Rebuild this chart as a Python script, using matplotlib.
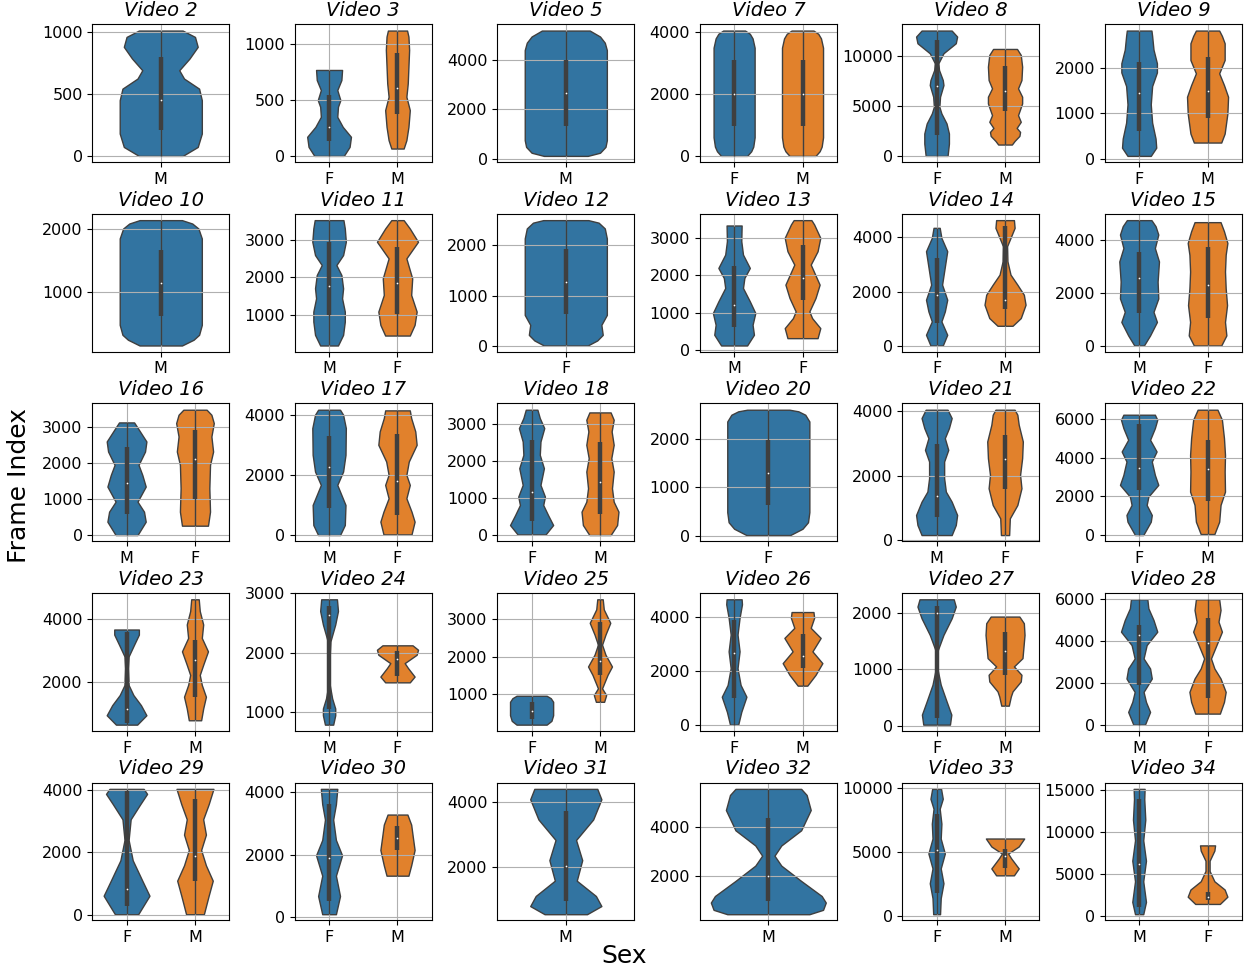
import matplotlib
matplotlib.use("Agg")
import matplotlib.pyplot as plt

# violin outlines: (frame index, half width in category units)
# boxes: (q1, median, q3)
v2_M = [(0, .16), (72, .27), (180, .30), (448, .30), (541, .28), (622, .17), (689, .135),
        (783, .21), (877, .27), (957, .25), (1008, .16)]
v2_M_box = (212, 448, 796)

v3_F = [(0, .215), (81, .30), (171, .32), (260, .20), (350, .12), (440, .13), (500, .165),
        (590, .12), (680, .18), (770, .19)]
v3_F_box = (132, 255, 545)
v3_M = [(66, .09), (141, .13), (260, .16), (410, .18), (530, .13), (650, .15), (800, .16),
        (950, .17), (1069, .16), (1123, .14)]
v3_M_box = (371, 605, 919)

v5_M = [(122, .16), (250, .25), (486, .29), (757, .30), (4400, .30), (4700, .285),
        (4950, .25), (5190, .175)]
v5_M_box = (1324, 2650, 4000)

v7_F = [(0, .19), (150, .25), (300, .28), (600, .30), (3500, .30), (3800, .27), (3950, .23), (4054, .16)]
v7_F_box = (973, 2000, 3103)
v7_M = [(0, .19), (150, .25), (300, .28), (600, .30), (3500, .30), (3800, .27), (3950, .23), (4054, .16)]
v7_M_box = (975, 2010, 3100)

v8_F = [(0, .16), (1237, .18), (2240, .18), (3244, .145), (4250, .07), (4916, .04), (5920, .05),
        (7090, .10), (7590, .09), (8600, .035), (9264, .025), (10270, .10), (11270, .28),
        (11940, .30), (12540, .22)]
v8_F_box = (2140, 6990, 11600)
v8_M = [(1137, .10), (1500, .14), (2000, .21), (2400, .22), (2800, .17), (3410, .23), (4080, .19),
        (5250, .25), (5920, .25), (6760, .19), (7590, .24), (8930, .25), (10100, .23), (10700, .175)]
v8_M_box = (4480, 6520, 9000)

v9_F = [(70, .17), (250, .25), (450, .24), (800, .19), (1200, .17), (1600, .19), (1900, .26),
        (2100, .26), (2400, .21), (2700, .19), (2817, .18)]
v9_F_box = (612, 1440, 2128)
v9_M = [(363, .20), (560, .25), (1000, .29), (1366, .30), (1623, .24), (1880, .17), (2172, .25),
        (2538, .25), (2700, .21), (2817, .17)]
v9_M_box = (905, 1498, 2230)

v10_M = [(138, .155), (230, .24), (309, .28), (468, .30), (1851, .30), (2010, .275), (2090, .23), (2144, .155)]
v10_M_box = (617, 1144, 1665)

v11_M = [(170, .13), (455, .205), (812, .23), (1080, .23), (1437, .19), (1705, .205), (2062, .18),
         (2330, .107), (2598, .205), (2955, .245), (3312, .23), (3536, .21)]
v11_M_box = (990, 1768, 2955)
v11_F = [(437, .18), (723, .25), (1080, .28), (1527, .20), (1973, .215), (2509, .13), (2955, .30),
         (3312, .18), (3536, .09)]
v11_F_box = (1009, 1857, 2821)

v12_F = [(20, .16), (120, .23), (230, .27), (428, .26), (625, .30), (2138, .30), (2336, .285),
         (2450, .24), (2500, .165)]
v12_F_box = (645, 1283, 1921)

v13_M = [(117, .19), (405, .29), (674, .27), (990, .31), (1303, .23), (1662, .13), (1932, .15),
         (2201, .23), (2560, .13), (2920, .105), (3342, .11)]
v13_M_box = (602, 1213, 2246)
v13_F = [(314, .22), (584, .26), (853, .14), (1033, .10), (1393, .19), (1752, .25), (2291, .12),
         (2650, .22), (3010, .26), (3369, .17), (3486, .13)]
v13_F_box = (1348, 1932, 2830)

v14_F = [(37, .09), (427, .155), (915, .07), (1280, .12), (1707, .155), (2256, .08), (2744, .11),
         (3476, .155), (3963, .07), (4329, .045)]
v14_F_box = (854, 1866, 3232)
v14_M = [(756, .11), (1037, .23), (1524, .30), (1890, .275), (2256, .18), (2622, .08), (3110, .035),
         (3659, .03), (3963, .08), (4329, .14), (4610, .13)]
v14_M_box = (1378, 1683, 4390)

v15_M = [(25, .07), (405, .16), (911, .26), (1291, .21), (1797, .28), (2430, .27), (3190, .29),
         (3696, .23), (4203, .28), (4519, .24), (4747, .18)]
v15_M_box = (1266, 2557, 3532)
v15_F = [(25, .20), (405, .275), (911, .255), (1544, .285), (2177, .265), (2810, .255), (3443, .265),
         (3886, .29), (4329, .24), (4671, .19)]
v15_F_box = (1063, 2304, 3722)

v16_M = [(9, .16), (378, .28), (655, .255), (932, .16), (1348, .28), (1671, .23), (1948, .175),
         (2317, .27), (2595, .29), (2918, .18), (3121, .11)]
v16_M_box = (600, 1440, 2438)
v16_F = [(268, .19), (655, .22), (1302, .21), (1948, .22), (2317, .265), (2733, .24), (3102, .275),
         (3333, .24), (3472, .17)]
v16_F_box = (1006, 2115, 2900)

v17_M = [(11, .16), (345, .23), (1014, .24), (1571, .14), (1682, .12), (2128, .205), (2685, .24),
         (3577, .245), (4022, .205), (4189, .16)]
v17_M_box = (903, 2295, 3298)
v17_F = [(33, .205), (457, .25), (791, .205), (1237, .13), (1682, .18), (2017, .13), (2462, .165),
         (3019, .28), (3465, .26), (3911, .20), (4167, .18)]
v17_F_box = (680, 1827, 3376)

v18_F = [(27, .205), (280, .315), (551, .24), (822, .17), (1048, .195), (1364, .13), (1816, .18),
         (2177, .12), (2538, .13), (2900, .185), (3171, .12), (3397, .085)]
v18_F_box = (388, 1183, 2584)
v18_M = [(9, .155), (280, .25), (641, .27), (912, .20), (1274, .175), (1725, .20), (2087, .165),
         (2448, .20), (2809, .17), (3126, .20), (3324, .155)]
v18_M_box = (569, 1454, 2511)

v20_F = [(20, .16), (150, .25), (283, .29), (490, .30), (2352, .30), (2490, .27), (2560, .22), (2593, .155)]
v20_F_box = (628, 1297, 1972)

v21_M = [(166, .22), (477, .28), (788, .30), (1202, .22), (1513, .135), (1927, .11), (2446, .11),
         (2808, .17), (3171, .12), (3482, .18), (3793, .22), (4052, .16)]
v21_M_box = (736, 1389, 2995)
v21_F = [(166, .06), (684, .07), (1098, .18), (1617, .24), (2031, .22), (2549, .25), (3067, .26),
         (3585, .20), (3896, .18), (4052, .14)]
v21_F_box = (1596, 2518, 3254)

v22_F = [(17, .06), (704, .17), (1048, .185), (1564, .11), (1993, .135), (2595, .28), (3110, .23),
         (3797, .185), (4313, .255), (4914, .16), (5515, .23), (5945, .265), (6203, .23)]
v22_F_box = (2337, 3454, 5722)
v22_M = [(69, .10), (704, .17), (1564, .19), (2251, .255), (3282, .25), (4141, .255), (5000, .24),
         (5945, .21), (6460, .145)]
v22_M_box = (1770, 3419, 4880)

v23_F = [(631, .155), (930, .29), (1251, .21), (1572, .10), (1893, .03), (2428, .02), (2802, .03),
         (3176, .11), (3497, .18), (3658, .18)]
v23_F_box = (695, 1123, 3572)
v23_M = [(770, .09), (1144, .12), (1519, .16), (1893, .10), (2214, .07), (2535, .12), (2963, .19),
         (3390, .10), (3818, .12), (4246, .07), (4620, .055)]
v23_M_box = (1519, 2695, 3337)

v24_M = [(785, .06), (943, .09), (1057, .09), (1227, .045), (1453, .01), (1850, .005), (2190, .02),
         (2473, .09), (2700, .13), (2898, .115)]
v24_M_box = (1057, 2626, 2785)
v24_F = [(1498, .18), (1595, .25), (1737, .155), (1822, .105), (1963, .28), (2048, .30), (2122, .22)]
v24_F_box = (1612, 1895, 2031)

v25_F = [(200, .22), (300, .29), (449, .315), (804, .315), (900, .28), (964, .22)]
v25_F_box = (360, 556, 804)
v25_M = [(804, .06), (982, .09), (1160, .03), (1516, .11), (1738, .175), (2049, .08), (2316, .03),
         (2582, .08), (2893, .15), (3249, .055), (3516, .04)]
v25_M_box = (1516, 1871, 2920)

v26_F = [(12, .06), (486, .105), (1047, .18), (1484, .095), (2107, .05), (2731, .08), (3354, .05),
         (3978, .08), (4476, .115), (4663, .11)]
v26_F_box = (985, 2656, 3878)
v26_M = [(1459, .07), (1858, .19), (2294, .29), (2731, .145), (3229, .265), (3603, .12), (3978, .17), (4190, .16)]
v26_M_box = (2107, 2544, 3379)

v27_F = [(29, .195), (205, .215), (439, .145), (731, .06), (1023, .01), (1316, .01), (1608, .10),
         (1900, .22), (2105, .28), (2234, .25)]
v27_F_box = (146, 1988, 2123)
v27_M = [(363, .055), (526, .085), (614, .11), (789, .23), (906, .24), (1053, .13), (1199, .255),
         (1608, .285), (1813, .275), (1930, .21)]
v27_M_box = (906, 1333, 1655)

v28_M = [(16, .085), (619, .16), (1095, .10), (1571, .065), (2206, .185), (2683, .16), (3159, .065),
         (3794, .11), (4429, .265), (4984, .21), (5540, .135), (5968, .12)]
v28_M_box = (1921, 4270, 4746)
v28_F = [(540, .18), (1095, .24), (1571, .265), (2206, .19), (2683, .10), (3159, .05), (3714, .12),
         (4429, .21), (4905, .16), (5460, .19), (5968, .17)]
v28_F_box = (1286, 3873, 5095)

v29_F = [(30, .17), (620, .335), (1100, .23), (1750, .09), (2400, .03), (3060, .06), (3540, .20),
         (3870, .30), (4030, .25)]
v29_F_box = (290, 850, 3970)
v29_M = [(30, .13), (620, .20), (1100, .26), (1590, .16), (2080, .09), (2570, .16), (3060, .12),
         (3540, .20), (4030, .27)]
v29_M_box = (1100, 1900, 3700)

v30_F = [(100, .10), (680, .16), (1330, .10), (1980, .19), (2470, .10), (3120, .06), (3610, .10), (4100, .12)]
v30_F_box = (520, 1890, 3610)
v30_M = [(1330, .16), (1660, .20), (2150, .25), (2630, .22), (2960, .20), (3280, .145)]
v30_M_box = (2150, 2540, 2930)

v31_M = [(560, .155), (810, .26), (1120, .22), (1590, .08), (2220, .12), (2840, .075), (3470, .20),
         (4090, .26), (4410, .23)]
v31_M_box = (970, 2030, 3720)

v32_M = [(420, .30), (600, .40), (900, .42), (1170, .39), (1790, .24), (2420, .095), (2830, .045),
         (3250, .095), (3875, .24), (4710, .31), (5330, .28), (5580, .24)]
v32_M_box = (960, 2000, 4380)

v33_F = [(150, .05), (1400, .06), (2560, .10), (3720, .06), (4880, .12), (6050, .06), (7210, .07),
         (8370, .045), (9150, .09), (9920, .065)]
v33_F_box = (1780, 5120, 7980)
v33_M = [(3180, .13), (3720, .20), (4500, .09), (4880, .045), (5430, .20), (6050, .28)]
v33_M_box = (3720, 4650, 5200)

v34_M = [(240, .06), (1700, .10), (4150, .06), (6590, .10), (9020, .06), (11460, .09), (13900, .075), (15120, .08)]
v34_M_box = (1100, 6200, 13900)
v34_F = [(1460, .18), (2320, .29), (3170, .25), (4150, .10), (5370, .03), (6590, .03), (7800, .10), (8410, .11)]
v34_F_box = (1950, 2320, 2930)

videos = [
    ("Video 2", [("M", v2_M, v2_M_box)]),
    ("Video 3", [("F", v3_F, v3_F_box), ("M", v3_M, v3_M_box)]),
    ("Video 5", [("M", v5_M, v5_M_box)]),
    ("Video 7", [("F", v7_F, v7_F_box), ("M", v7_M, v7_M_box)]),
    ("Video 8", [("F", v8_F, v8_F_box), ("M", v8_M, v8_M_box)]),
    ("Video 9", [("F", v9_F, v9_F_box), ("M", v9_M, v9_M_box)]),
    ("Video 10", [("M", v10_M, v10_M_box)]),
    ("Video 11", [("M", v11_M, v11_M_box), ("F", v11_F, v11_F_box)]),
    ("Video 12", [("F", v12_F, v12_F_box)]),
    ("Video 13", [("M", v13_M, v13_M_box), ("F", v13_F, v13_F_box)]),
    ("Video 14", [("F", v14_F, v14_F_box), ("M", v14_M, v14_M_box)]),
    ("Video 15", [("M", v15_M, v15_M_box), ("F", v15_F, v15_F_box)]),
    ("Video 16", [("M", v16_M, v16_M_box), ("F", v16_F, v16_F_box)]),
    ("Video 17", [("M", v17_M, v17_M_box), ("F", v17_F, v17_F_box)]),
    ("Video 18", [("F", v18_F, v18_F_box), ("M", v18_M, v18_M_box)]),
    ("Video 20", [("F", v20_F, v20_F_box)]),
    ("Video 21", [("M", v21_M, v21_M_box), ("F", v21_F, v21_F_box)]),
    ("Video 22", [("F", v22_F, v22_F_box), ("M", v22_M, v22_M_box)]),
    ("Video 23", [("F", v23_F, v23_F_box), ("M", v23_M, v23_M_box)]),
    ("Video 24", [("M", v24_M, v24_M_box), ("F", v24_F, v24_F_box)]),
    ("Video 25", [("F", v25_F, v25_F_box), ("M", v25_M, v25_M_box)]),
    ("Video 26", [("F", v26_F, v26_F_box), ("M", v26_M, v26_M_box)]),
    ("Video 27", [("F", v27_F, v27_F_box), ("M", v27_M, v27_M_box)]),
    ("Video 28", [("M", v28_M, v28_M_box), ("F", v28_F, v28_F_box)]),
    ("Video 29", [("F", v29_F, v29_F_box), ("M", v29_M, v29_M_box)]),
    ("Video 30", [("F", v30_F, v30_F_box), ("M", v30_M, v30_M_box)]),
    ("Video 31", [("M", v31_M, v31_M_box)]),
    ("Video 32", [("M", v32_M, v32_M_box)]),
    ("Video 33", [("F", v33_F, v33_F_box), ("M", v33_M, v33_M_box)]),
    ("Video 34", [("M", v34_M, v34_M_box), ("F", v34_F, v34_F_box)]),
]

colors = ["#3274a1", "#e1812c"]
line_col = "#3f3f3f"

fig, axes = plt.subplots(5, 6, figsize=(12.48, 9.72), dpi=100)
fig.subplots_adjust(left=0.074, right=0.995, top=0.975, bottom=0.053, wspace=0.48, hspace=0.375)

for ax, (title, groups) in zip(axes.flat, videos):
    stats = []
    widths = []
    for sex, prof, box in groups:
        ys = [p[0] for p in prof]
        ws = [p[1] for p in prof]
        stats.append(dict(coords=ys, vals=ws, mean=box[1], median=box[1],
                          min=ys[0], max=ys[-1], quantiles=[]))
        widths.append(2 * max(ws))
    pos = list(range(len(groups)))
    parts = ax.violin(stats, positions=pos, widths=widths, showextrema=False)
    for body, c in zip(parts['bodies'], colors):
        body.set_facecolor(c)
        body.set_edgecolor(line_col)
        body.set_linewidth(1)
        body.set_alpha(1)
    # seaborn style inner box: whisker, thick iqr bar, white median dot
    ax.vlines(pos, [s['min'] for s in stats], [s['max'] for s in stats],
              color=line_col, lw=1.0, zorder=3)
    ax.vlines(pos, [g[2][0] for g in groups], [g[2][2] for g in groups],
              color=line_col, lw=3.2, zorder=3)
    ax.scatter(pos, [g[2][1] for g in groups], s=1.5, color="white", zorder=4, linewidths=0)
    ax.set_xticks(pos)
    ax.set_xticklabels([g[0] for g in groups])
    ax.set_xlim(-0.5, len(groups) - 0.5)
    ax.grid(True)
    ax.tick_params(labelsize=11.5)
    ax.set_title(title, fontsize=14, style="italic")

fig.supylabel("Frame Index", fontsize=18, x=0.006)
fig.supxlabel("Sex", fontsize=18, y=0.004)

fig.savefig("out.png", dpi=100)
